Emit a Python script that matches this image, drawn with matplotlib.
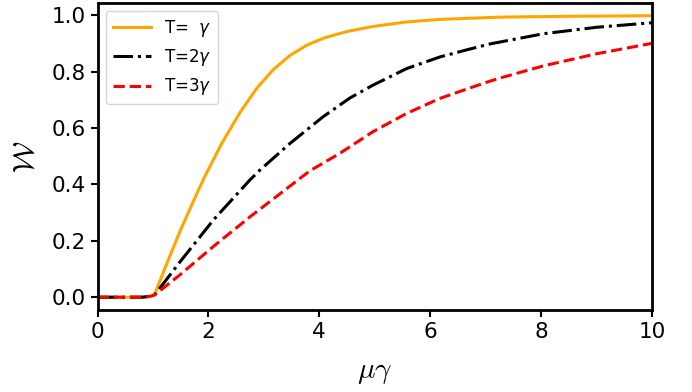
import matplotlib
matplotlib.use("Agg")
import matplotlib.pyplot as plt

# T = gamma
x_t1 = [0, 0.5, 0.8, 0.95, 1.03, 1.23, 1.49, 1.82, 1.94, 2.24, 2.57, 2.87, 3.17, 3.47, 3.77,
        4.07, 4.37, 4.55, 4.97, 5.58, 6.18, 7.26, 8.5, 10]
y_t1 = [0, 0, 0, 0.003, 0.01, 0.11, 0.235, 0.38, 0.43, 0.545, 0.655, 0.74, 0.807, 0.857, 0.893,
        0.918, 0.935, 0.944, 0.960, 0.976, 0.985, 0.993, 0.996, 0.998]

# T = 2 gamma
x_t2 = [0, 0.5, 0.8, 0.95, 1.03, 1.49, 2.09, 2.75, 2.93, 3.47, 4.07, 4.55, 4.97, 5.58, 6.18,
        6.66, 7.08, 8.04, 9.0, 10]
y_t2 = [0, 0, 0, 0.003, 0.008, 0.126, 0.274, 0.416, 0.451, 0.545, 0.64, 0.706, 0.752, 0.811,
        0.852, 0.877, 0.898, 0.934, 0.957, 0.973]

# T = 3 gamma
x_t3 = [0, 0.5, 0.8, 0.95, 1.03, 1.49, 2.09, 2.75, 3.83, 4.37, 4.55, 4.97, 5.58, 6.18, 6.66,
        7.08, 7.26, 8.04, 9.0, 10]
y_t3 = [0, 0, 0, 0.003, 0.008, 0.08, 0.18, 0.285, 0.448, 0.51, 0.533, 0.587, 0.652, 0.705,
        0.738, 0.766, 0.777, 0.82, 0.863, 0.9]

labels = ["T=  $\\gamma$", "T=2$\\gamma$", "T=3$\\gamma$"]
x_ticks = [0, 2, 4, 6, 8, 10]
y_ticks = [0.0, 0.2, 0.4, 0.6, 0.8, 1.0]

fig = plt.figure(figsize=(6.92, 3.92), dpi=100)
ax = fig.add_axes([0.141, 0.208, 0.801, 0.785])

ax.plot(x_t1, y_t1, color="orange", linestyle="-", linewidth=2.2, label=labels[0])
ax.plot(x_t2, y_t2, color="black", linestyle="-.", linewidth=2.2, label=labels[1])
ax.plot(x_t3, y_t3, color="red", linestyle="--", linewidth=2.2, label=labels[2])

ax.set_xlim(0, 10)
ax.set_ylim(-0.047, 1.044)
ax.set_xticks(x_ticks)
ax.set_xticklabels([str(t) for t in x_ticks])
ax.set_yticks(y_ticks)
ax.set_yticklabels([f"{t:.1f}" for t in y_ticks])
ax.tick_params(labelsize=15.5, width=1.5, length=5)
for s in ax.spines.values():
    s.set_linewidth(2)

ax.set_xlabel("$\\mu\\gamma$", fontsize=21, labelpad=11, math_fontfamily="cm")
ax.set_ylabel("$\\mathcal{W}$", fontsize=21, labelpad=9, math_fontfamily="cm")

ax.legend(loc="upper left", fontsize=12, handlelength=2.3)

fig.savefig("out.png", dpi=100)
